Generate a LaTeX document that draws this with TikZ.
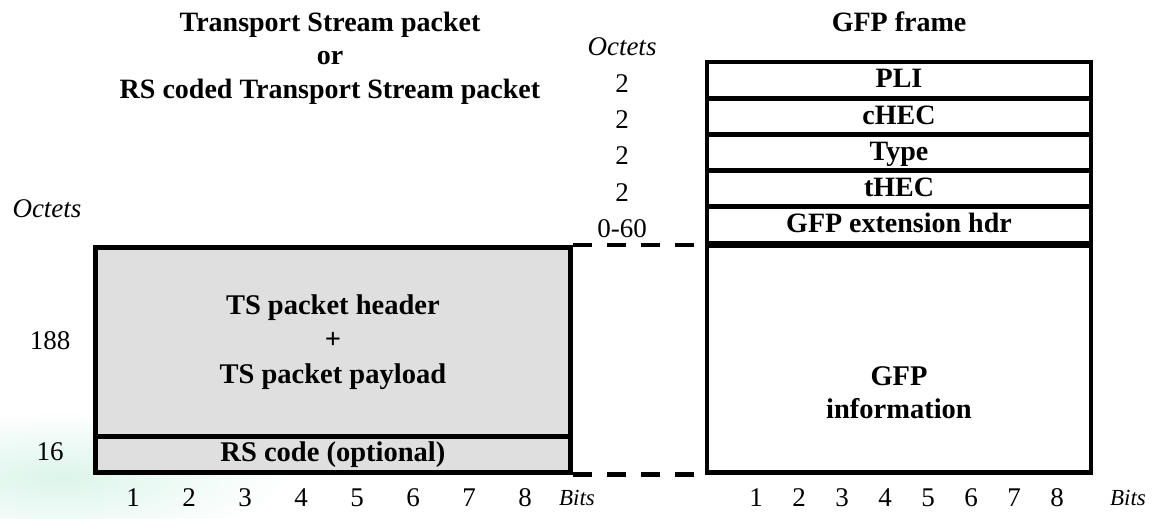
\documentclass[tikz,border=0pt]{standalone}
\usepackage{fontspec}
\setmainfont{Liberation Serif}
\definecolor{boxgray}{RGB}{223,223,223}
\definecolor{speckle}{RGB}{220,245,235}
\begin{document}
\begin{tikzpicture}[x=1pt,y=-1pt,
  thick frame/.style={draw=black, line width=4.8pt, inner sep=0pt},
  grayfill/.style={fill=boxgray},
  rowbox/.style={thick frame, minimum width=384pt, minimum height=36.2pt,
     text height=18.5pt, text depth=3pt,
     font=\fontsize{28}{30}\selectfont\bfseries},
  boldtxt/.style={font=\fontsize{28.5}{34.5}\selectfont\bfseries, inner sep=0pt, align=center},
  titletxt/.style={font=\fontsize{28}{34}\selectfont\bfseries, inner sep=0pt, anchor=base},
  numtxt/.style={font=\fontsize{27}{30}\selectfont, inner sep=0pt},
  itxt/.style={font=\fontsize{27}{30}\selectfont\itshape, inner sep=0pt},
  bitstxt/.style={font=\fontsize{23}{26}\selectfont\itshape, inner sep=0pt},
  dashline/.style={line width=4.8pt, dash pattern=on 19pt off 15pt}]
\useasboundingbox (0,0) rectangle (1159,519);

% faint background speckle
\begin{scope}
  \clip (0,400) rectangle (320,519);
  \shade[inner color=speckle, outer color=white] (-170,410) rectangle (290,545);
\end{scope}

% titles
\node[titletxt] (t1) at (330,32) {Transport Stream packet};
\node[titletxt] (t2) at (330,65) {or};
\node[titletxt] (t3) at (330,99) {RS coded Transport Stream packet};
\node[titletxt] (t4) at (899,32) {GFP frame};

% left box
\node[thick frame, grayfill, minimum width=475pt, minimum height=189pt, anchor=north west,
      boldtxt] (ts) at (93,245) {TS packet header\\+\\TS packet payload};
\node[thick frame, grayfill, minimum width=475pt, minimum height=36pt, anchor=north west,
      boldtxt] (rs) at (93,434) {RS code (optional)};

% right box rows
\node[rowbox] (pli)  at (899,80.1)  {PLI};
\node[rowbox] (chec) at (899,116.3) {cHEC};
\node[rowbox] (type) at (899,152.5) {Type};
\node[rowbox] (thec) at (899,188.7) {tHEC};
\node[rowbox] (ext)  at (899,224.9) {GFP extension hdr};
\node[thick frame, minimum width=384pt, minimum height=227pt, anchor=north] (info) at (899,243) {};
\node[boldtxt, font=\fontsize{28.5}{33}\selectfont\bfseries] (infotxt) at (899,393) {GFP\\information};

% dashed connectors
\draw[dashline] (ts.north east) -- (ts.north east -| info.west);
\draw[dashline] (rs.south east) -- (rs.south east -| info.west);

% octet labels
\node[itxt] (oct1) at (47,209) {Octets};
\node[numtxt] (n188) at (50,341) {188};
\node[numtxt] (n16) at (50,452) {16};
\node[itxt] (oct2) at (622,47) {Octets};
\node[numtxt] (o1) at (622,84) {2};
\node[numtxt] (o2) at (622,120) {2};
\node[numtxt] (o3) at (622,156) {2};
\node[numtxt] (o4) at (622,193) {2};
\node[numtxt] (o5) at (622,229) {0-60};

% bit labels
\foreach \i in {1,...,8} {
  \node[numtxt] (lb\i) at ({133+56*(\i-1)},498) {\i};
  \node[numtxt] (rb\i) at ({756+43*(\i-1)},498) {\i};
}
\node[bitstxt] (lbits) at (577,498) {Bits};
\node[bitstxt] (rbits) at (1128,498) {Bits};
\end{tikzpicture}
\end{document}
